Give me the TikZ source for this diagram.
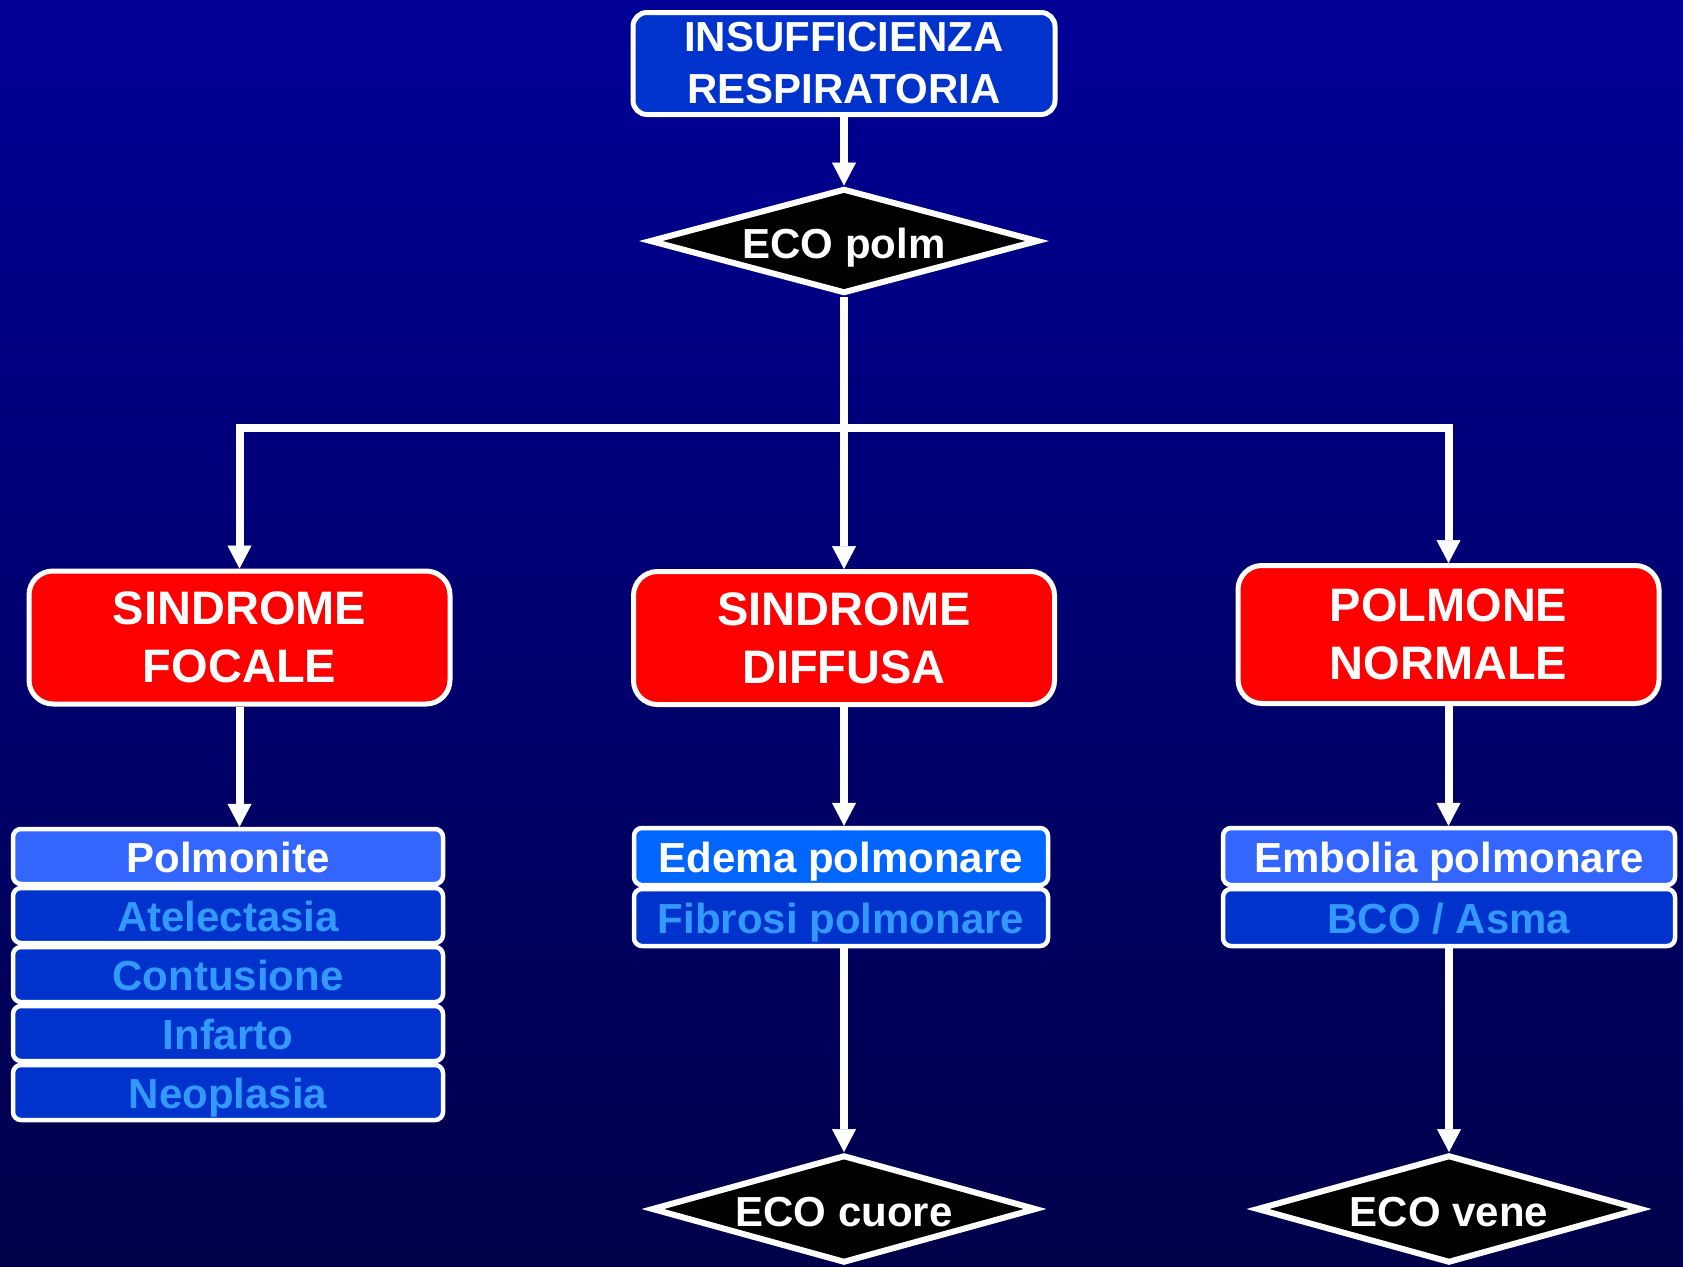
\documentclass[tikz,border=0pt]{standalone}
\usepackage{fontspec}
\setmainfont{Liberation Sans}
\usetikzlibrary{arrows.meta,shapes.geometric}
\definecolor{bgtop}{RGB}{0,0,150}
\definecolor{bgbot}{RGB}{0,0,74}
\definecolor{boxblue}{RGB}{0,51,204}
\definecolor{lightrow}{RGB}{51,102,255}
\definecolor{edemarow}{RGB}{0,102,255}
\definecolor{rowtext}{RGB}{51,153,255}
\definecolor{redbox}{RGB}{255,0,0}
\begin{document}
\begin{tikzpicture}[x=1pt,y=-1pt,
  conn/.style={draw=white,line width=8pt},
  arr/.style={conn,-{Triangle[width=24pt,length=23pt,line width=0.5pt]}},
  topbox/.style={rectangle,rounded corners=14pt,draw=white,line width=5pt,fill=boxblue,text=white,
    font=\bfseries\fontsize{42}{52}\selectfont,align=center,inner sep=0pt,
    minimum width=422pt,minimum height=102pt},
  redb/.style={rectangle,rounded corners=24pt,draw=white,line width=5pt,fill=redbox,text=white,
    font=\bfseries\fontsize{47}{58}\selectfont,align=center,inner sep=0pt,
    minimum width=421pt,minimum height=133pt},
  dia/.style={diamond,draw=white,line width=6pt,fill=black,text=white,
    font=\bfseries\fontsize{42}{50}\selectfont,inner sep=0pt,aspect=3.7,
    text height=34pt,text depth=0pt},
  row/.style={rectangle,rounded corners=8pt,draw=white,line width=4.5pt,inner sep=0pt,
    font=\bfseries\fontsize{42}{50}\selectfont,text height=32pt,text depth=0pt},
  darkrow/.style={row,fill=boxblue,text=rowtext},
  lightr/.style={row,fill=lightrow,text=white},
  edr/.style={row,fill=edemarow,text=white},
  l1/.style={minimum width=430pt,minimum height=55pt},
  l2/.style={minimum width=414pt,minimum height=57pt},
  l3/.style={minimum width=452pt,minimum height=57pt}
]
\useasboundingbox (0,0) rectangle (1683,1266);
\shade[top color=bgtop,bottom color=bgbot] (0,0) rectangle (1683,1266);

\node[topbox] (top) at (844,63.5) {INSUFFICIENZA\\RESPIRATORIA};
\node[dia,minimum width=389pt,minimum height=105pt] (ep) at (844,241) {ECO polm};

\node[redb] (sf) at (239.5,637.5) {SINDROME\\FOCALE};
\node[redb] (sd) at (844,638) {SINDROME\\DIFFUSA};
\node[redb,minimum height=138pt] (pn) at (1448.5,634.5) {POLMONE\\NORMALE};

\node[lightr,l1] (p1) at (228,856.5) {Polmonite};
\node[darkrow,l1] (p2) at (228,915.5) {Atelectasia};
\node[darkrow,l1] (p3) at (228,974.5) {Contusione};
\node[darkrow,l1] (p4) at (228,1033.5) {Infarto};
\node[darkrow,l1] (p5) at (228,1092.5) {Neoplasia};

\node[edr,l2] (e1) at (841,856.5) {Edema polmonare};
\node[darkrow,l2] (e2) at (841,917.5) {Fibrosi polmonare};

\node[lightr,l3] (n1) at (1449,856.5) {Embolia polmonare};
\node[darkrow,l3] (n2) at (1449,917.5) {BCO / Asma};

\node[dia,minimum width=385pt,minimum height=108pt] (ec) at (844,1209) {ECO cuore};
\node[dia,minimum width=385pt,minimum height=108pt] (ev) at (1449,1209) {ECO vene};

\coordinate (j) at (844,428);
\draw[arr] (top.south) -- (ep.north);
\draw[arr] (ep.south) -- (sd.north);
\draw[arr] (j) -| (sf.north);
\draw[arr] (j) -| (pn.north);
\draw[arr] (sf.south) -- (sf.south |- p1.north);
\draw[arr] (sd.south) -- (sd.south |- e1.north);
\draw[arr] (pn.south) -- (pn.south |- n1.north);
\draw[arr] (ec.north |- e2.south) -- (ec.north);
\draw[arr] (ev.north |- n2.south) -- (ev.north);
\end{tikzpicture}
\end{document}
